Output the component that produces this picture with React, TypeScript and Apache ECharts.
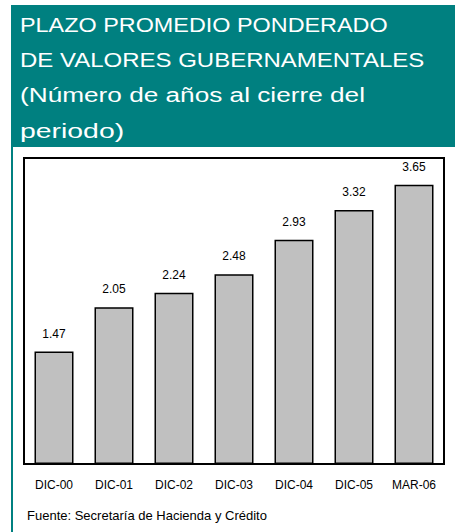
import React, { useEffect, useRef } from "react";
import * as echarts from "echarts";

const categories = ["DIC-00", "DIC-01", "DIC-02", "DIC-03", "DIC-04", "DIC-05", "MAR-06"];
const values = [1.47, 2.05, 2.24, 2.48, 2.93, 3.32, 3.65];
const titleLines = [
  "PLAZO PROMEDIO PONDERADO",
  "DE VALORES GUBERNAMENTALES",
  "(Número de años al cierre del",
  "periodo)",
];
const sourceText = "Fuente: Secretaría de Hacienda y Crédito";

const TEAL = "#008080";
const FONT = "Liberation Sans, Arial, sans-serif";

export default function App() {
  const ref = useRef<HTMLDivElement>(null);
  useEffect(() => {
    if (!ref.current) return;
    const chart = echarts.init(ref.current, undefined, { renderer: "svg" });
    const lineY = [24.7, 60, 95.3, 131];
    const lineScale = [1.17, 1.2, 1.31, 1.42];
    chart.setOption({
      animation: false,
      backgroundColor: "#ffffff",
      graphic: [
        { type: "rect", shape: { x: 11, y: 5, width: 444, height: 142 }, style: { fill: TEAL }, z: 0 },
        { type: "rect", shape: { x: 11, y: 147, width: 2, height: 385 }, style: { fill: TEAL }, z: 0 },
        ...titleLines.map((t, i) => ({
          type: "text",
          x: 20,
          y: lineY[i],
          scaleX: lineScale[i],
          z: 10,
          style: {
            text: t,
            fill: "#ffffff",
            font: `20px ${FONT}`,
            textAlign: "left",
            textVerticalAlign: "middle",
          },
        })),
        {
          type: "text",
          x: 27,
          y: 515,
          z: 10,
          style: {
            text: sourceText,
            fill: "#000000",
            font: `13px ${FONT}`,
            textAlign: "left",
            textVerticalAlign: "middle",
          },
        },
      ],
      grid: {
        left: 24,
        top: 158,
        width: 420,
        height: 306,
        show: true,
        borderColor: "#000000",
        borderWidth: 2,
        backgroundColor: "#ffffff",
      },
      xAxis: {
        type: "category",
        data: categories,
        axisLine: { show: true, lineStyle: { color: "#000000", width: 2 } },
        axisTick: { show: false },
        axisLabel: { color: "#000000", fontSize: 12, fontFamily: FONT, margin: 15, interval: 0 },
      },
      yAxis: {
        type: "value",
        min: 0,
        max: 4,
        show: false,
        splitLine: { show: false },
      },
      series: [
        {
          type: "bar",
          data: values,
          barWidth: "65%",
          itemStyle: { color: "#c0c0c0", borderColor: "#000000", borderWidth: 1.5 },
          label: {
            show: true,
            position: "top",
            distance: 12,
            color: "#000000",
            fontSize: 12,
            fontFamily: FONT,
            formatter: (p: any) => p.value.toFixed(2),
          },
        },
      ],
    });
    return () => chart.dispose();
  }, []);
  return (
    <div
      ref={ref}
      style={{ position: "absolute", left: 0, top: 0, width: 455, height: 532 }}
    />
  );
}
